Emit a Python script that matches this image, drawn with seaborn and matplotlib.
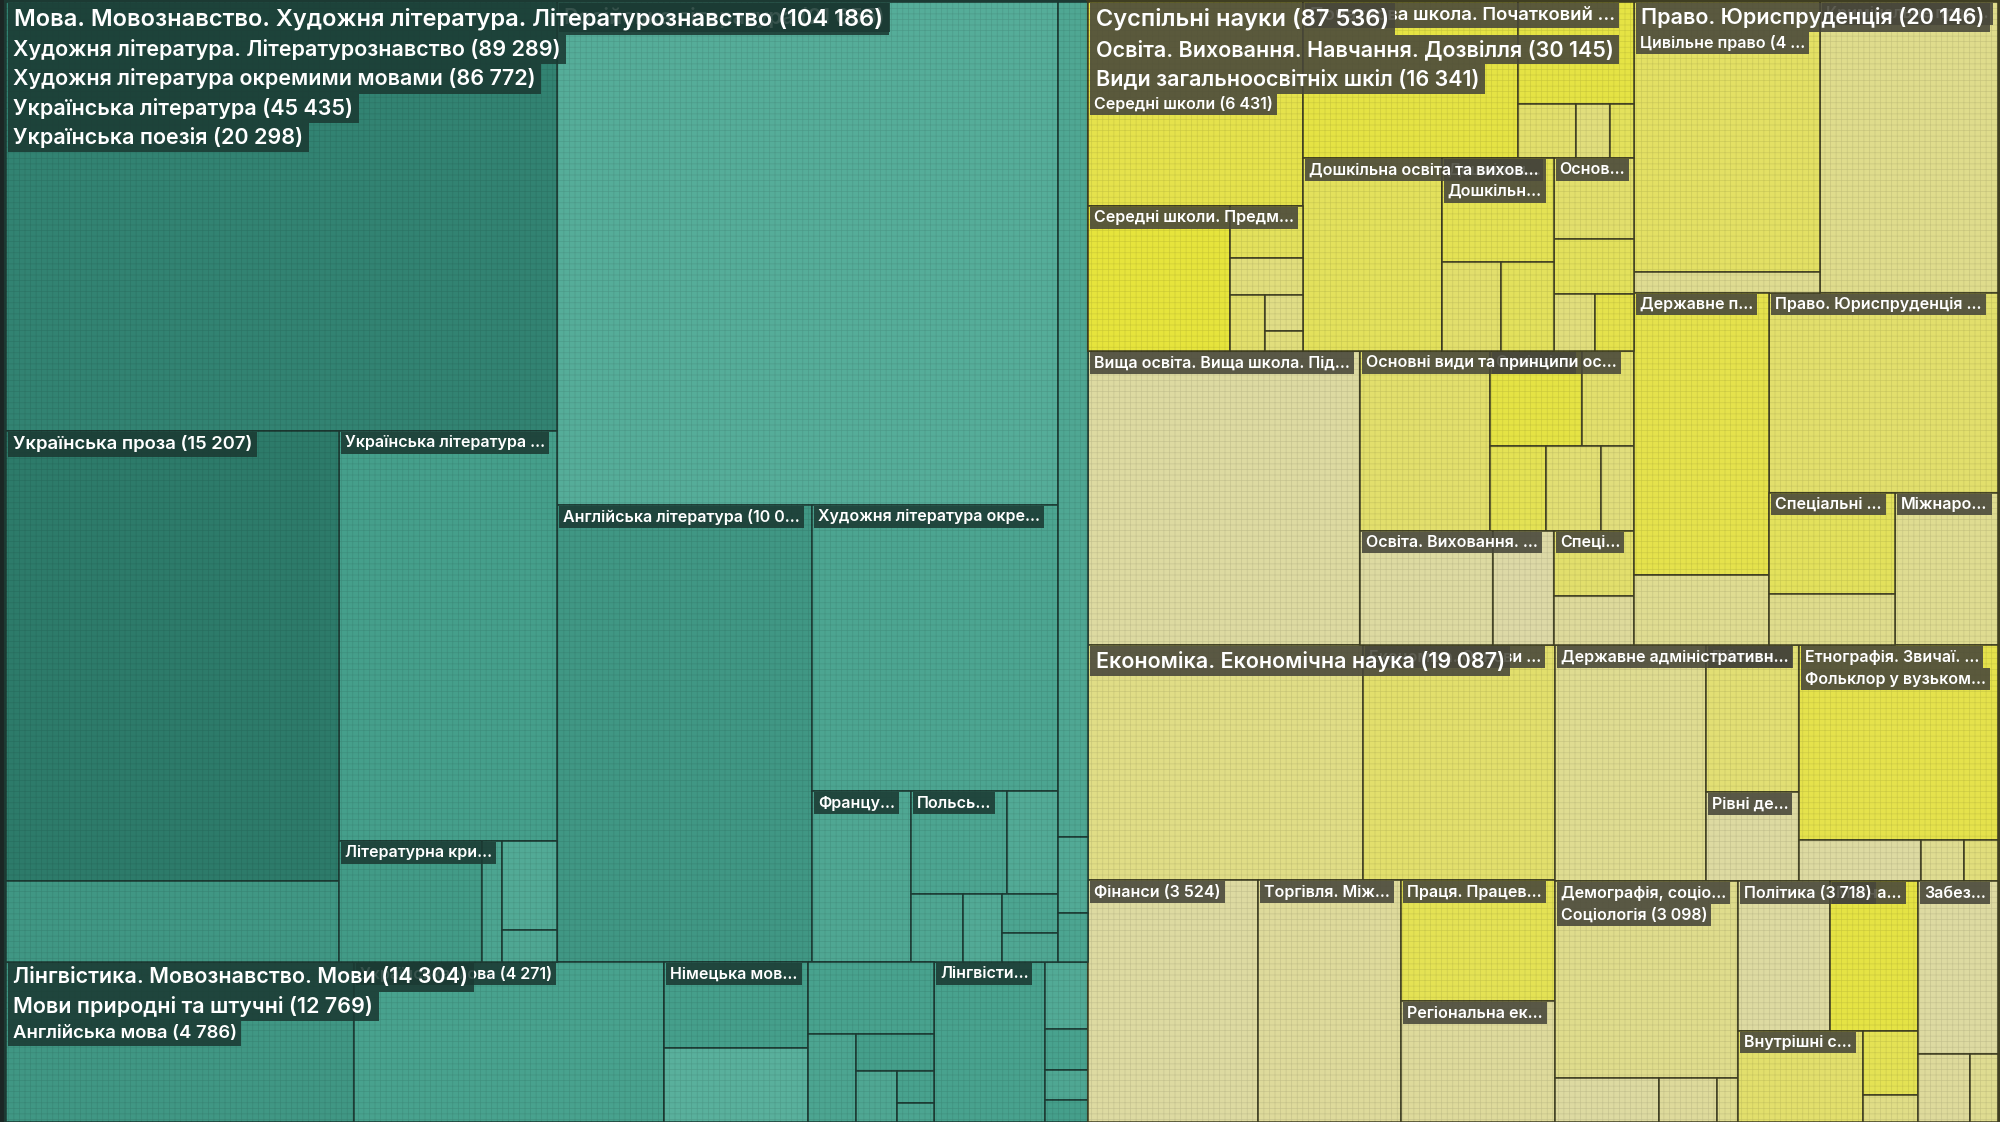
import numpy as np
import pandas as pd
import matplotlib
matplotlib.use("Agg")
import matplotlib.pyplot as plt
from matplotlib.patches import Rectangle
from matplotlib.font_manager import FontProperties
import seaborn as sns

# tree: id, parent, label, value (books), colour shade 0..1
node_ids = [
    "A", "B", "C", "D", "D1", "D2", "D2a", "D2b", "D3", "D4", "D4a", "D4b", "D5", "D5a", "D5b",
    "R", "E", "F", "Fr", "Pl", "c1", "c2", "c3", "c4", "c5",
    "S", "S1", "S2", "S3",
    "L", "N", "N1", "N2", "N3", "N3a", "N3b", "N4", "N4a", "N4b", "N4c", "N4d", "N4e", "N4f", "L2",
    "M", "M1", "M2", "M3", "M4",
    "Y", "O", "V", "V1", "V1a", "V1b", "V1b1", "V1b2", "V1b3", "V1b4", "V1b5", "V1b6",
    "V2", "V2a", "V2b", "V2c", "V2d", "V2e",
    "V3", "V3a", "V3b", "V3b1", "V3b2", "V3b3",
    "V4", "V4a", "V4b", "V4c", "V4d",
    "H", "P", "Pa", "Pb", "Pc", "Pd", "Pe", "Pf", "OV", "OVa", "OVb", "SP", "SPa", "SPb",
    "PR", "PR1", "PR1a", "PR1b", "PR2", "PR3", "PR3a", "PR3b", "PR4", "PR5", "PR5a", "PR5b", "PR6",
    "EC", "EC1", "EC2", "EC3", "EC4", "EC5", "EC6",
    "DA", "DA1", "DA2", "DA3",
    "ET", "ET1", "ET2", "ET3", "ET4",
    "DM", "DM1", "DM2", "DM3", "DM4",
    "PO", "PO1", "PO2", "PO3", "PO4", "PO5",
    "ZB", "ZB1", "ZB2", "ZB3",
]
parent_ids = [
    "", "A", "B", "C", "D", "D", "D2", "D2", "D", "D", "D4", "D4", "D", "D5", "D5",
    "C", "C", "C", "C", "C", "C", "C", "C", "C", "C",
    "B", "S", "S", "S",
    "A", "L", "N", "N", "N", "N3", "N3", "N", "N4", "N4", "N4", "N4", "N4", "N4", "L",
    "A", "M", "M", "M", "M",
    "", "Y", "O", "V", "V1", "V1", "V1b", "V1b", "V1b", "V1b", "V1b", "V1b",
    "V", "V2", "V2", "V2", "V2", "V2",
    "V", "V3", "V3", "V3b", "V3b", "V3b",
    "V", "V4", "V4", "V4", "V4",
    "O", "O", "P", "P", "P", "P", "P", "P", "O", "OV", "OV", "O", "SP", "SP",
    "Y", "PR", "PR1", "PR1", "PR", "PR", "PR3", "PR3", "PR", "PR", "PR5", "PR5", "PR",
    "Y", "EC", "EC", "EC", "EC", "EC", "EC",
    "Y", "DA", "DA", "DA",
    "Y", "ET", "ET", "ET", "ET",
    "Y", "DM", "DM", "DM", "DM",
    "Y", "PO", "PO", "PO", "PO", "PO",
    "Y", "ZB", "ZB", "ZB",
]
names = [
    "Мова. Мовознавство. Художня література. Літературознавство",
    "Художня література. Літературознавство",
    "Художня література окремими мовами",
    "Українська література", "Українська поезія", "Українська проза", "", "",
    "Українська література", "Літературна критика", "", "", "", "", "",
    "Російська література", "Англійська література", "Художня література окремими мовами",
    "Французька література", "Польська література", "", "", "", "", "",
    "", "", "", "",
    "Лінгвістика. Мовознавство. Мови", "Мови природні та штучні", "Англійська мова",
    "Українська мова", "Німецька мова", "", "", "", "", "", "", "", "", "",
    "Лінгвістика. Загальні питання",
    "", "", "", "", "",
    "Суспільні науки", "Освіта. Виховання. Навчання. Дозвілля", "Види загальноосвітніх шкіл",
    "Середні школи", "", "Середні школи. Предметне навчання", "", "", "", "", "", "",
    "Початкова школа. Початковий рівень освіти", "", "", "", "", "",
    "Дошкільна освіта та виховання", "", "Дошкільні заклади", "Дошкільна педагогіка", "", "",
    "Основна школа", "", "", "", "",
    "Вища освіта. Вища школа. Підготовка наукових кадрів",
    "Основні види та принципи освіти", "", "Освітні системи", "", "", "", "",
    "Освіта. Виховання. Навчання", "", "", "Спеціальна освіта", "", "",
    "Право. Юриспруденція", "Цивільне право", "", "", "Кримінальне право",
    "Державне право", "", "", "Право. Юриспруденція", "Спеціальні галузі права", "", "",
    "Міжнародне право",
    "Економіка. Економічна наука", "", "Економіка. Основи явищ.", "Фінанси",
    "Торгівля. Міжнародна торгівля", "Праця. Працевлаштування", "Регіональна економіка",
    "Державне адміністративне управління", "", "Військова справа", "Рівні державного управління",
    "Етнографія. Звичаї. Побут", "Фольклор у вузькому розумінні", "", "", "",
    "Демографія, соціологія, статистика", "Соціологія", "", "", "",
    "Політика", "", "Міжнародні відносини", "Внутрішні справи", "", "",
    "Забезпечення соціальних потреб", "", "", "",
]
values = [
    104186, 89289, 86772, 45435, 20298, 15207, 12900, 2307, 7668, 1694, 1480, 214, 568, 420, 148,
    21655, 10020, 6055, 1452, 850, 450, 300, 230, 186, 139,
    2517, 2190, 200, 127,
    14304, 12769, 4786, 4271, 1980, 1070, 910, 1732, 780, 360, 250, 180, 100, 62, 1535,
    593, 250, 150, 110, 83,
    87536, 30145, 16341, 6431, 3757, 2674, 1760, 330, 230, 170, 120, 64,
    4432, 2880, 1010, 270, 160, 112,
    4150, 2300, 1850, 1000, 450, 400,
    1328, 560, 380, 200, 188,
    6871, 4232, 2018, 750, 427, 404, 394, 239, 1913, 1313, 600, 788, 450, 338,
    20146, 4660, 4333, 327, 4438, 4119, 3300, 819, 3927, 1651, 1100, 551, 1351,
    19087, 5530, 3870, 3524, 2970, 1600, 1593,
    4950, 3060, 1175, 715,
    4030, 3330, 430, 150, 120,
    3800, 3098, 400, 220, 82,
    3718, 1179, 1130, 980, 300, 129,
    1660, 1190, 308, 162,
]
shades = [
    0.5, 0.5, 0.5, 0.7, 0.85, 0.9, 0.95, 0.6, 0.5, 0.5, 0.55, 0.4, 0.3, 0.3, 0.35,
    0.25, 0.6, 0.4, 0.35, 0.4, 0.3, 0.35, 0.3, 0.4, 0.35,
    0.35, 0.35, 0.3, 0.4,
    0.5, 0.5, 0.6, 0.45, 0.5, 0.5, 0.2, 0.45, 0.45, 0.4, 0.5, 0.35, 0.45, 0.4, 0.45,
    0.4, 0.3, 0.45, 0.35, 0.5,
    0.5, 0.5, 0.7, 0.75, 0.8, 0.8, 0.9, 0.7, 0.5, 0.6, 0.4, 0.5,
    0.7, 0.85, 0.85, 0.6, 0.5, 0.7,
    0.6, 0.7, 0.7, 0.75, 0.6, 0.7,
    0.6, 0.6, 0.7, 0.5, 0.8,
    0.15, 0.5, 0.6, 0.85, 0.6, 0.75, 0.55, 0.5, 0.15, 0.15, 0.1, 0.5, 0.6, 0.2,
    0.5, 0.55, 0.65, 0.3, 0.35, 0.75, 0.8, 0.3, 0.6, 0.65, 0.7, 0.35, 0.3,
    0.4, 0.4, 0.6, 0.15, 0.2, 0.75, 0.2,
    0.3, 0.3, 0.55, 0.15,
    0.5, 0.8, 0.15, 0.3, 0.5,
    0.3, 0.35, 0.15, 0.2, 0.3,
    0.4, 0.15, 0.85, 0.6, 0.75, 0.4,
    0.15, 0.15, 0.2, 0.3,
]

df = pd.DataFrame({"id": node_ids, "parent": parent_ids, "name": names,
                   "value": values, "shade": shades}).set_index("id")

W, H = 2000, 1122
sns.set_theme(style="white")
plt.rcParams["font.family"] = ["Inter", "DejaVu Sans"]
plt.rcParams["hatch.linewidth"] = 0.5

kids = {i: [] for i in df.index}
kids[""] = []
for i, p in zip(df.index, df["parent"]):
    kids[p].append(i)
for p in kids:
    kids[p].sort(key=lambda k: -df.at[k, "value"])

rects = {}


def binary(nodes, x0, y0, x1, y1, total):
    # same split rule as d3.treemapBinary
    sums = np.concatenate([[0], np.cumsum([df.at[n, "value"] for n in nodes])])

    def part(i, j, value, x0, y0, x1, y1):
        if i >= j - 1:
            rects[nodes[i]] = (x0, y0, x1, y1)
            return
        off = sums[i]
        target = value / 2 + off
        k, hi = i + 1, j - 1
        while k < hi:
            mid = (k + hi) // 2
            if sums[mid] < target:
                k = mid + 1
            else:
                hi = mid
        if (target - sums[k - 1]) < (sums[k] - target) and i + 1 < k:
            k -= 1
        left = sums[k] - off
        right = value - left
        if (x1 - x0) > (y1 - y0):
            xk = (x0 * right + x1 * left) / value
            part(i, k, left, x0, y0, xk, y1)
            part(k, j, right, xk, y0, x1, y1)
        else:
            yk = (y0 * right + y1 * left) / value
            part(i, k, left, x0, y0, x1, yk)
            part(k, j, right, x0, yk, x1, y1)

    part(0, len(nodes), total, x0, y0, x1, y1)


def layout(pid, box):
    if not kids[pid]:
        return
    total = sum(df.at[k, "value"] for k in kids[pid])
    binary(kids[pid], *box, total)
    for k in kids[pid]:
        layout(k, rects[k])


layout("", (6, 2, W - 2, H))

depth = {}
family = {}
for i in df.index:
    d, p = 1, df.at[i, "parent"]
    top = i
    while p:
        d += 1
        top = p
        p = df.at[p, "parent"]
    depth[i] = d
    family[i] = top

greens = sns.blend_palette(["#66bba7", "#459f8b", "#2a7767"], n_colors=101)
yellows = sns.blend_palette(["#dcd8b0", "#e1de7c", "#e7e52c"], n_colors=101)
edge_col = {"A": "#1c3a33", "Y": "#3f3e22"}
label_bg = {"A": "#1b3a33", "Y": "#47463a"}

fig = plt.figure(figsize=(W / 100, H / 100), dpi=100, facecolor="#1b2624")
ax = fig.add_axes([0, 0, 1, 1])
ax.set_xlim(0, W)
ax.set_ylim(H, 0)
ax.axis("off")

for i in sorted(df.index, key=lambda k: depth[k]):
    x0, y0, x1, y1 = rects[i]
    pal = greens if family[i] == "A" else yellows
    col = pal[int(round(df.at[i, "shade"] * 100))]
    lw = {1: 3.0, 2: 2.2}.get(depth[i], 1.1)
    ax.add_patch(Rectangle((x0, y0), x1 - x0, y1 - y0, facecolor=col,
                           edgecolor=edge_col[family[i]], linewidth=lw, zorder=depth[i]))

# fine grid texture
ax.add_patch(Rectangle((6, 2), W - 8, H - 2, fill=False, hatch="+++",
                       edgecolor=(0, 0, 0, 0.1), linewidth=0, zorder=9))

renderer = fig.canvas.get_renderer()


def font_px(i):
    x0, y0, x1, y1 = rects[i]
    w = x1 - x0
    if depth[i] == 1:
        return 23.6
    if w >= 357 and df.at[i, "value"] >= 10000:
        return 21.5
    if w >= 320:
        return 18.5
    return 16.0


def fmt(v):
    return f"{v:,}".replace(",", " ")


offset, boxh, shown = {}, {}, {}
order = sorted(df.index, key=lambda k: depth[k])
for i in order:
    x0, y0, x1, y1 = rects[i]
    p = df.at[i, "parent"]
    off = 0.0
    if p and abs(rects[p][0] - x0) < 0.5 and abs(rects[p][1] - y0) < 0.5:
        off = offset[p] + (boxh[p] if shown[p] else 0)
    offset[i] = off
    fpx = font_px(i)
    boxh[i] = fpx * 1.36
    shown[i] = bool(df.at[i, "name"]) and (x1 - x0) >= 70 and (y1 - y0) >= off + boxh[i] + 4

labels = [i for i in df.index if shown[i]]
labels.sort(key=lambda k: (-depth[k], node_ids.index(k)))
for n, i in enumerate(labels):
    x0, y0, x1, y1 = rects[i]
    fpx = font_px(i)
    fp = FontProperties(family=["Inter", "DejaVu Sans"], weight="semibold", size=fpx * 0.72)
    padx = 0.25 * fpx
    avail = (x1 - x0) - 2 * padx - 2
    txt = f"{df.at[i, 'name']} ({fmt(df.at[i, 'value'])})"

    def tw(s):
        return renderer.get_text_width_height_descent(s, fp, ismath=False)[0]

    if tw(txt) > avail:
        cut = len(txt)
        while cut > 1 and tw(txt[:cut].rstrip(" (") + " ...") > avail:
            cut -= 1
        head = txt[:cut]
        txt = head.rstrip(" (") + (" ..." if head.endswith((" ", "(")) else "...")
    bx, by = x0 + 2, y0 + 1 + offset[i]
    ax.add_patch(Rectangle((bx, by), tw(txt) + 2 * padx, boxh[i],
                           facecolor=label_bg[family[i]], alpha=0.88, linewidth=0,
                           zorder=20 + 2 * n))
    ax.text(bx + padx, by + boxh[i] / 2, txt, fontproperties=fp, color="white",
            va="center", ha="left", zorder=21 + 2 * n)

fig.savefig("out.png", dpi=100, facecolor=fig.get_facecolor())
